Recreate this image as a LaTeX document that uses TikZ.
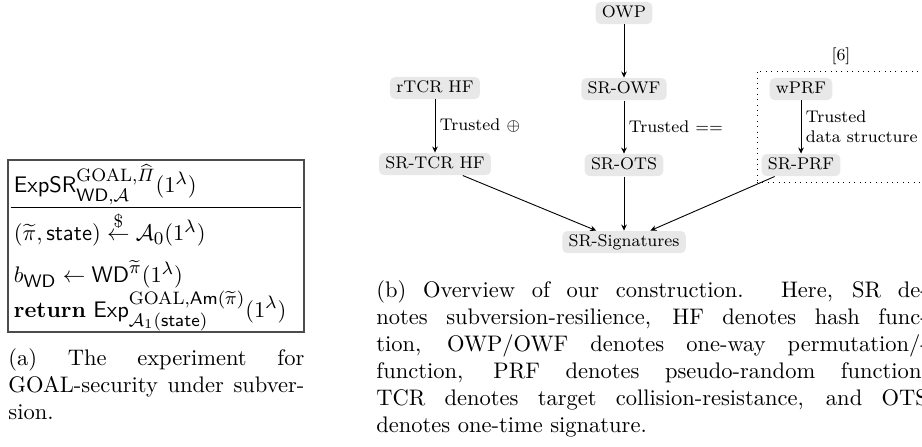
\documentclass[tikz,border=0pt]{standalone}
\usepackage{amsmath}
\usetikzlibrary{positioning,arrows.meta}
\DeclareMathSizes{10}{10}{8}{6}
\newcommand{\nodefont}{\fontsize{7.5pt}{9pt}\selectfont}
\tikzset{
	-{Stealth[length=2.7pt,width=2.5pt]}, semithick,% arrows of the overview graph
	prim/.style ={rounded corners=2.2pt, fill=gray!18, font=\nodefont, inner xsep=2.8pt, inner ysep=1.4pt, text height=5.4pt, text depth=1.6pt}, % one primitive of the construction
	el/.style = {anchor=west, font=\nodefont, align=left, inner xsep=2pt, inner ysep=1pt}, % label next to an arrow
	groupbox/.style = {draw, dotted, thin, inner sep=0pt},
	expbox/.style = {draw=gray!60!black, line width=0.8pt, inner xsep=1.2pt, inner ysep=0.5pt},
	capt/.style = {inner sep=0pt, align=justify, font=\normalsize}
}
\newcommand{\lam}{1^{\lambda}}
\newcommand{\tpi}{\widetilde{\pi}}

\begin{document}
\begin{tikzpicture}[x=0.4444pt, y=-0.4444pt]
	\useasboundingbox (0,0) rectangle (922,447);
	% (a) the experiment
	\setlength{\arrayrulewidth}{0.6pt}
	\setlength{\tabcolsep}{1.5pt}
	\node[expbox, anchor=north west] (exp) at (7,159) {%
		\begin{tabular}{p{126.1pt}}
			\rule[-6.2pt]{0pt}{20.4pt}$\mathsf{ExpSR}^{\mathrm{GOAL},\widehat{\varPi}}_{\mathsf{WD},\mathcal{A}}(\lam)$\\ \hline
			\rule[-5pt]{0pt}{19.2pt}$(\tpi,\mathsf{state}) \stackrel{\$}{\leftarrow} \mathcal{A}_0(\lam)$\\
			\rule[-4pt]{0pt}{17.7pt}$b_{\mathsf{WD}} \leftarrow \mathsf{WD}^{\tpi}(\lam)$\\
			\rule[-3.5pt]{0pt}{14.6pt}$\mathbf{return}\ \mathsf{Exp}^{\mathrm{GOAL},\mathsf{Am}(\tpi)}_{\mathcal{A}_1(\mathsf{state})}(\lam)$
		\end{tabular}};
	\node[capt, text width=131.5pt, anchor=north west] (capa) at (8,348)
		{(a) The experiment for\linebreak GOAL-security under subver-\linebreak sion.};
	% (b) overview of the construction
	\node[prim] (owp) at (624,13) {OWP};
	\node[prim, below=23.6pt of owp] (srowf) {SR-OWF};
	\node[prim, below=23.6pt of srowf] (srots) {SR-OTS};
	\node[prim, below=24pt of srots] (srsig) {SR-Signatures};
	\node[prim] (rtcr) at (435,88) {rTCR HF};
	\node[prim, below=23.6pt of rtcr] (srtcr) {SR-TCR HF};
	\node[prim] (wprf) at (801,89) {wPRF};
	\node[prim, below=23.6pt of wprf] (srprf) {SR-PRF};
	\node[groupbox, minimum width=74.7pt, minimum height=49.3pt,
		label={[font=\nodefont, inner sep=2.4pt]above:[6]}] (grp) at (841,126.5) {};
	\draw (owp) -- (srowf);
	\draw (rtcr) -- node[el] {Trusted $\oplus$} (srtcr);
	\draw (srowf) -- node[el] {Trusted $==$} (srots);
	\draw (wprf) -- node[el] {Trusted\\data structure} (srprf);
	\draw (srtcr) -- (srsig);
	\draw (srots) -- (srsig);
	\draw (srprf) -- (srsig);
	\node[capt, text width=245pt, anchor=north west] (capb) at (376,280)
		{(b) Overview of our construction. Here, SR de-\linebreak notes subversion-resilience, HF denotes hash func-\linebreak tion, OWP/OWF denotes one-way permutation/-\linebreak function, PRF denotes pseudo-random function,\linebreak TCR denotes target collision-resistance, and OTS\linebreak denotes one-time signature.};
\end{tikzpicture}
\end{document}
